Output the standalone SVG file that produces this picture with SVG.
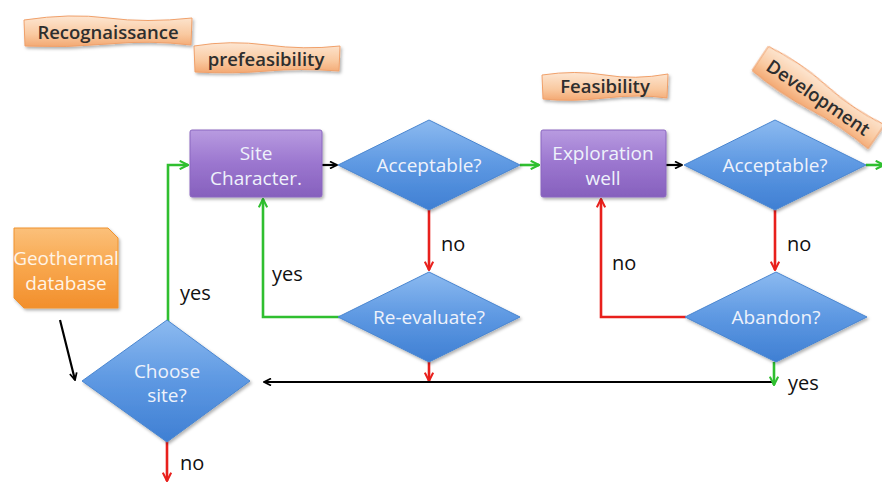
<svg xmlns="http://www.w3.org/2000/svg" width="882" height="484" viewBox="0 0 882 484">
<defs>
<linearGradient id="gBlue" x1="0" y1="0" x2="0" y2="1"><stop offset="0" stop-color="#8cbaf0"/><stop offset="0.5" stop-color="#5d98e2"/><stop offset="1" stop-color="#3f7fd3"/></linearGradient>
<linearGradient id="gPurple" x1="0" y1="0" x2="0" y2="1"><stop offset="0" stop-color="#b89be0"/><stop offset="0.5" stop-color="#9b76cf"/><stop offset="1" stop-color="#8660bd"/></linearGradient>
<linearGradient id="gOrange" x1="0" y1="0" x2="0" y2="1"><stop offset="0" stop-color="#fbc07a"/><stop offset="0.5" stop-color="#f8a64c"/><stop offset="1" stop-color="#f28f2c"/></linearGradient>
<linearGradient id="gBanner" x1="0" y1="0" x2="0" y2="1"><stop offset="0" stop-color="#fde6d2"/><stop offset="0.6" stop-color="#f9c9a0"/><stop offset="1" stop-color="#f3a872"/></linearGradient>
<filter id="sh" x="-10%" y="-10%" width="130%" height="130%"><feDropShadow dx="1.5" dy="2" stdDeviation="1.5" flood-color="#000" flood-opacity="0.3"/></filter>
<marker id="aBlack" viewBox="0 0 10 10" refX="9" refY="5" markerWidth="4" markerHeight="4" orient="auto-start-reverse"><path d="M1,1 L9,5 L1,9" fill="none" stroke="#000" stroke-width="2"/></marker>
<marker id="aGreen" viewBox="0 0 10 10" refX="9" refY="5" markerWidth="4" markerHeight="4" orient="auto"><path d="M1,1 L9,5 L1,9" fill="none" stroke="#2fbf2f" stroke-width="2"/></marker>
<marker id="aRed" viewBox="0 0 10 10" refX="9" refY="5" markerWidth="4" markerHeight="4" orient="auto"><path d="M1,1 L9,5 L1,9" fill="none" stroke="#e8201c" stroke-width="2"/></marker>
</defs>
<style>
.dia{fill:url(#gBlue);stroke:#4a86d0;stroke-width:1;filter:url(#sh)}
.box{fill:url(#gPurple);stroke:#8a66bf;stroke-width:1;filter:url(#sh)}
.ban{fill:url(#gBanner);stroke:#f0a06a;stroke-width:1;filter:url(#sh)}
.nt{font-family:"Open Sans","Liberation Sans",sans-serif;font-size:19px;fill:#eef2fb;text-anchor:middle}
.bt{font-family:"Open Sans","Liberation Sans",sans-serif;font-size:18.5px;font-weight:600;fill:#2e2e2e;text-anchor:middle}
.lb{font-family:"Open Sans","Liberation Sans",sans-serif;font-size:20px;fill:#111}
.k{stroke:#000;stroke-width:2.2;fill:none}
.g{stroke:#2fbf2f;stroke-width:2.6;fill:none}
.r{stroke:#e8201c;stroke-width:2.6;fill:none}
</style>
<rect width="882" height="484" fill="#fff"/>

<g id="banners">
<g id="recognaissance">
<path class="ban" d="M24,20 Q70,13 108,18 T192,18 L191,45 Q150,40 108,44 T25,46 Z"/>
<text class="bt" x="108" y="39">Recognaissance</text>
</g>
<g id="prefeasibility">
<path class="ban" d="M194,46 Q230,40 267,45 T340,46 L339,71 Q300,68 267,71 T195,72 Z"/>
<text class="bt" x="266" y="66">prefeasibility</text>
</g>
<g id="feasibility">
<path class="ban" d="M542,75 Q575,70 605,75 T668,74 L667,98 Q640,94 605,98 T543,99 Z"/>
<text class="bt" x="605" y="93">Feasibility</text>
</g>
<g id="development" transform="translate(818,98) rotate(34)">
<path class="ban" d="M-70,-15 Q-35,-20 0,-15 T70,-15 L70,14 Q35,10 0,14 T-70,14 Z"/>
<text class="bt" x="0" y="6">Development</text>
</g>
</g>

<g id="connectors">
<polyline class="g" points="168,336 168,165 188,165" marker-end="url(#aGreen)"/>
<line class="k" x1="322" y1="165" x2="337" y2="165" marker-end="url(#aBlack)"/>
<line class="g" x1="520" y1="165" x2="539" y2="165" marker-end="url(#aGreen)"/>
<line class="r" x1="429" y1="210" x2="429" y2="270" marker-end="url(#aRed)"/>
<polyline class="g" points="340,317 263,317 263,199" marker-end="url(#aGreen)"/>
<line class="r" x1="429" y1="362" x2="429" y2="381" marker-end="url(#aRed)"/>
<polyline class="k" points="774,382 264,382" marker-end="url(#aBlack)"/>
<line class="g" x1="774" y1="362" x2="774" y2="385" marker-end="url(#aGreen)"/>
<polyline class="r" points="686,317 601,317 601,199" marker-end="url(#aRed)"/>
<line class="k" x1="666" y1="165" x2="682" y2="165" marker-end="url(#aBlack)"/>
<line class="g" x1="866" y1="165" x2="884" y2="165" marker-end="url(#aGreen)"/>
<line class="r" x1="775" y1="210" x2="775" y2="270" marker-end="url(#aRed)"/>
<line class="k" x1="60" y1="320" x2="75" y2="380" marker-end="url(#aBlack)"/>
<line class="r" x1="167" y1="428" x2="167" y2="481" marker-end="url(#aRed)"/>
</g>

<g id="labels">
<text class="lb" x="180" y="300">yes</text>
<text class="lb" x="272" y="281">yes</text>
<text class="lb" x="441" y="251">no</text>
<text class="lb" x="612" y="270">no</text>
<text class="lb" x="787" y="251">no</text>
<text class="lb" x="788" y="390">yes</text>
<text class="lb" x="180" y="470">no</text>
</g>

<g id="geothermal">
<path d="M14,228 L108,228 L118,238 L118,308 L24,308 L14,298 Z" fill="url(#gOrange)" stroke="#f0922e" filter="url(#sh)"/>
<text class="nt" x="66" y="265" style="fill:#fff4e6">Geothermal</text>
<text class="nt" x="66" y="290" style="fill:#fff4e6">database</text>
</g>

<g id="site-character">
<rect class="box" x="190" y="130" width="132" height="67" rx="2"/>
<text class="nt" x="256" y="160">Site</text>
<text class="nt" x="256" y="185">Character.</text>
</g>

<g id="acceptable1">
<polygon class="dia" points="429,120 520,165 429,210 338,165"/>
<text class="nt" x="429" y="172">Acceptable?</text>
</g>

<g id="exploration-well">
<rect class="box" x="541" y="130" width="125" height="67" rx="2"/>
<text class="nt" x="603" y="160">Exploration</text>
<text class="nt" x="603" y="185">well</text>
</g>

<g id="acceptable2">
<polygon class="dia" points="775,120 866,165 775,210 684,165"/>
<text class="nt" x="775" y="172">Acceptable?</text>
</g>

<g id="re-evaluate">
<polygon class="dia" points="429,272 520,317 429,362 338,317"/>
<text class="nt" x="429" y="324">Re-evaluate?</text>
</g>

<g id="abandon">
<polygon class="dia" points="776,272 867,317 776,362 685,317"/>
<text class="nt" x="776" y="324">Abandon?</text>
</g>

<g id="choose-site">
<polygon class="dia" points="167,320 250,381 167,442 82,381"/>
<text class="nt" x="167" y="378">Choose</text>
<text class="nt" x="167" y="402">site?</text>
</g>
</svg>
